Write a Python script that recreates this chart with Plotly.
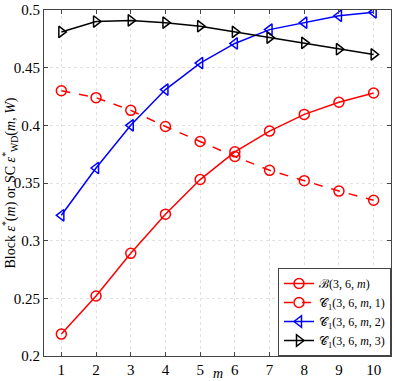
import plotly.graph_objects as go

m = [1, 2, 3, 4, 5, 6, 7, 8, 9, 10]
block = [0.219, 0.252, 0.289, 0.323, 0.353, 0.377, 0.395, 0.4095, 0.420, 0.428]
sc_w1 = [0.430, 0.424, 0.413, 0.399, 0.386, 0.373, 0.361, 0.352, 0.343, 0.335]
sc_w2 = [0.322, 0.363, 0.400, 0.431, 0.454, 0.471, 0.483, 0.489, 0.495, 0.498]
sc_w3 = [0.481, 0.490, 0.491, 0.489, 0.486, 0.481, 0.476, 0.4715, 0.466, 0.4615]

SERIF = "'Liberation Serif', 'Times New Roman', serif"

fig = go.Figure()

series = [
    (block, "ℬ(3, 6, <i>m</i>)", "red", "solid", "circle-open"),
    (sc_w1, "𝒞<sub>1</sub>(3, 6, <i>m</i>, 1)", "red", "dash", "circle-open"),
    (sc_w2, "𝒞<sub>1</sub>(3, 6, <i>m</i>, 2)", "blue", "solid", "triangle-left-open"),
    (sc_w3, "𝒞<sub>1</sub>(3, 6, <i>m</i>, 3)", "black", "solid", "triangle-right-open"),
]
for y, name, color, dash, symbol in series:
    fig.add_trace(
        go.Scatter(
            x=m,
            y=y,
            mode="lines+markers",
            name=name,
            line=dict(color=color, width=1.5, dash=dash),
            marker=dict(symbol=symbol, size=10, color=color, line=dict(color=color, width=1.5)),
        )
    )

axis_common = dict(
    showline=True,
    linecolor="#444",
    linewidth=1,
    mirror="ticks",
    ticks="inside",
    ticklen=4,
    tickcolor="#444",
    showgrid=True,
    gridcolor="#e2e2e2",
    griddash="dot",
    gridwidth=1,
    zeroline=False,
    tickfont=dict(family=SERIF, size=15, color="black"),
)

fig.update_layout(
    width=395,
    height=381,
    margin=dict(l=44, r=4, t=10, b=25, autoexpand=False),
    plot_bgcolor="white",
    paper_bgcolor="white",
    font=dict(family=SERIF, size=13, color="black"),
    xaxis=dict(
        range=[0.5, 10.5],
        tickvals=m,
        **axis_common,
    ),
    yaxis=dict(
        range=[0.2, 0.5],
        tickvals=[0.2, 0.25, 0.3, 0.35, 0.4, 0.45, 0.5],
        ticktext=["0.2", "0.25", "0.3", "0.35", "0.4", "0.45", "0.5"],
        title=dict(
            text="Block <i>ε</i><sup>*</sup>(<i>m</i>) or SC <i>ε</i><sup>*</sup><sub>WD</sub>(<i>m</i>, <i>W</i>)",
            font=dict(family=SERIF, size=14),
            standoff=2,
        ),
        **axis_common,
    ),
    legend=dict(
        x=1,
        y=0,
        xanchor="right",
        yanchor="bottom",
        bgcolor="white",
        bordercolor="#444",
        borderwidth=1,
        font=dict(family=SERIF, size=12),
        tracegroupgap=0,
        itemwidth=30,
    ),
    showlegend=True,
)

fig.add_annotation(
    text="<i>m</i>",
    xref="paper",
    yref="paper",
    x=0.5,
    y=0,
    yshift=-17,
    yanchor="middle",
    showarrow=False,
    font=dict(family=SERIF, size=14),
)

# page body has a default 8px margin; drop it so the figure fills the window
fig.write_html(
    "out.html",
    config={"displayModeBar": False},
    post_script="document.body.style.margin='0';",
)
